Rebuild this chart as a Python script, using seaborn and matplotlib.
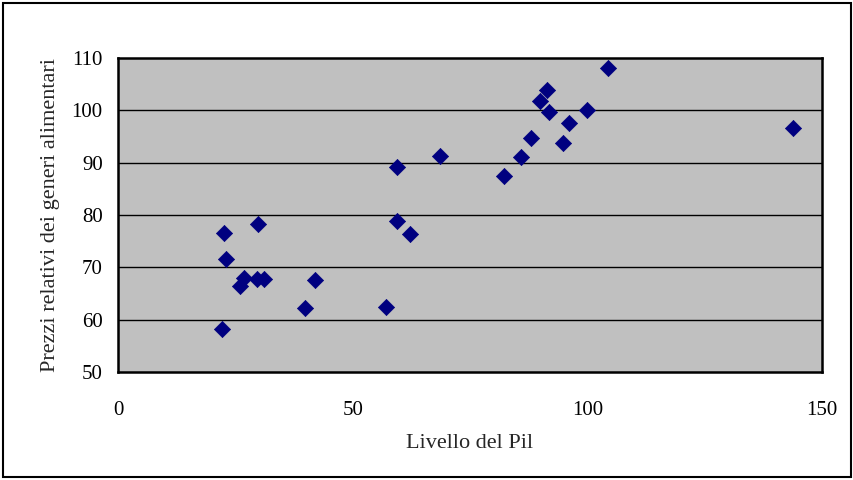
import matplotlib
matplotlib.use("Agg")
import matplotlib.pyplot as plt
import seaborn as sns
import pandas as pd
from matplotlib.patches import Rectangle

# Data
livello_pil = [22.2, 22.6, 23.1, 25.9, 26.8, 29.7, 31.1, 29.9, 39.9, 41.9,
               57.2, 59.5, 62.2, 59.5, 68.7, 82.3, 85.9, 87.9, 89.9, 91.3,
               91.9, 94.9, 96.2, 99.9, 104.4, 143.8]
prezzi_relativi = [58.2, 76.6, 71.5, 66.5, 68.0, 67.8, 67.8, 78.2, 62.3, 67.6,
                   62.4, 78.9, 76.3, 89.2, 91.3, 87.5, 91.1, 94.8, 101.7, 103.8,
                   99.6, 93.8, 97.5, 100.0, 108.1, 96.6]
x_ticks = [0, 50, 100, 150]
y_ticks = [50, 60, 70, 80, 90, 100, 110]

df = pd.DataFrame({"x": livello_pil, "y": prezzi_relativi})

sns.set_style("white")
plt.rcParams['font.family'] = ['Liberation Serif', 'DejaVu Serif']

fig = plt.figure(figsize=(8.54, 4.8), dpi=100)
ax = fig.add_axes([118/854, 108/480, 704/854, 314/480])
ax.set_facecolor("#C0C0C0")

for yv in y_ticks[1:-1]:
    ax.axhline(yv, color="#000000", lw=1.0, zorder=1)

sns.scatterplot(data=df, x="x", y="y", marker="D", s=68, color="#000080",
                edgecolor="#000080", linewidth=0.5, ax=ax, zorder=3)

ax.set_xlim(0, 150)
ax.set_ylim(50, 110)
ax.set_xticks(x_ticks)
ax.set_yticks(y_ticks)
ax.tick_params(axis="both", direction="out", length=5, width=1, colors="black",
               labelsize=15)
ax.tick_params(axis="x", pad=16)
ax.tick_params(axis="y", pad=6)
ax.set_xlabel("Livello del Pil", fontsize=16, labelpad=10)
ax.set_ylabel("Prezzi relativi dei generi alimentari", fontsize=16, labelpad=8)
for sp in ax.spines.values():
    sp.set_visible(True)
    sp.set_color("black")
    sp.set_linewidth(1.8)

fig.patches.append(Rectangle((3/854, 3/480), 848/854, 474/480, transform=fig.transFigure,
                             fill=False, edgecolor="black", lw=1.5))

fig.savefig("out.png", dpi=100)
